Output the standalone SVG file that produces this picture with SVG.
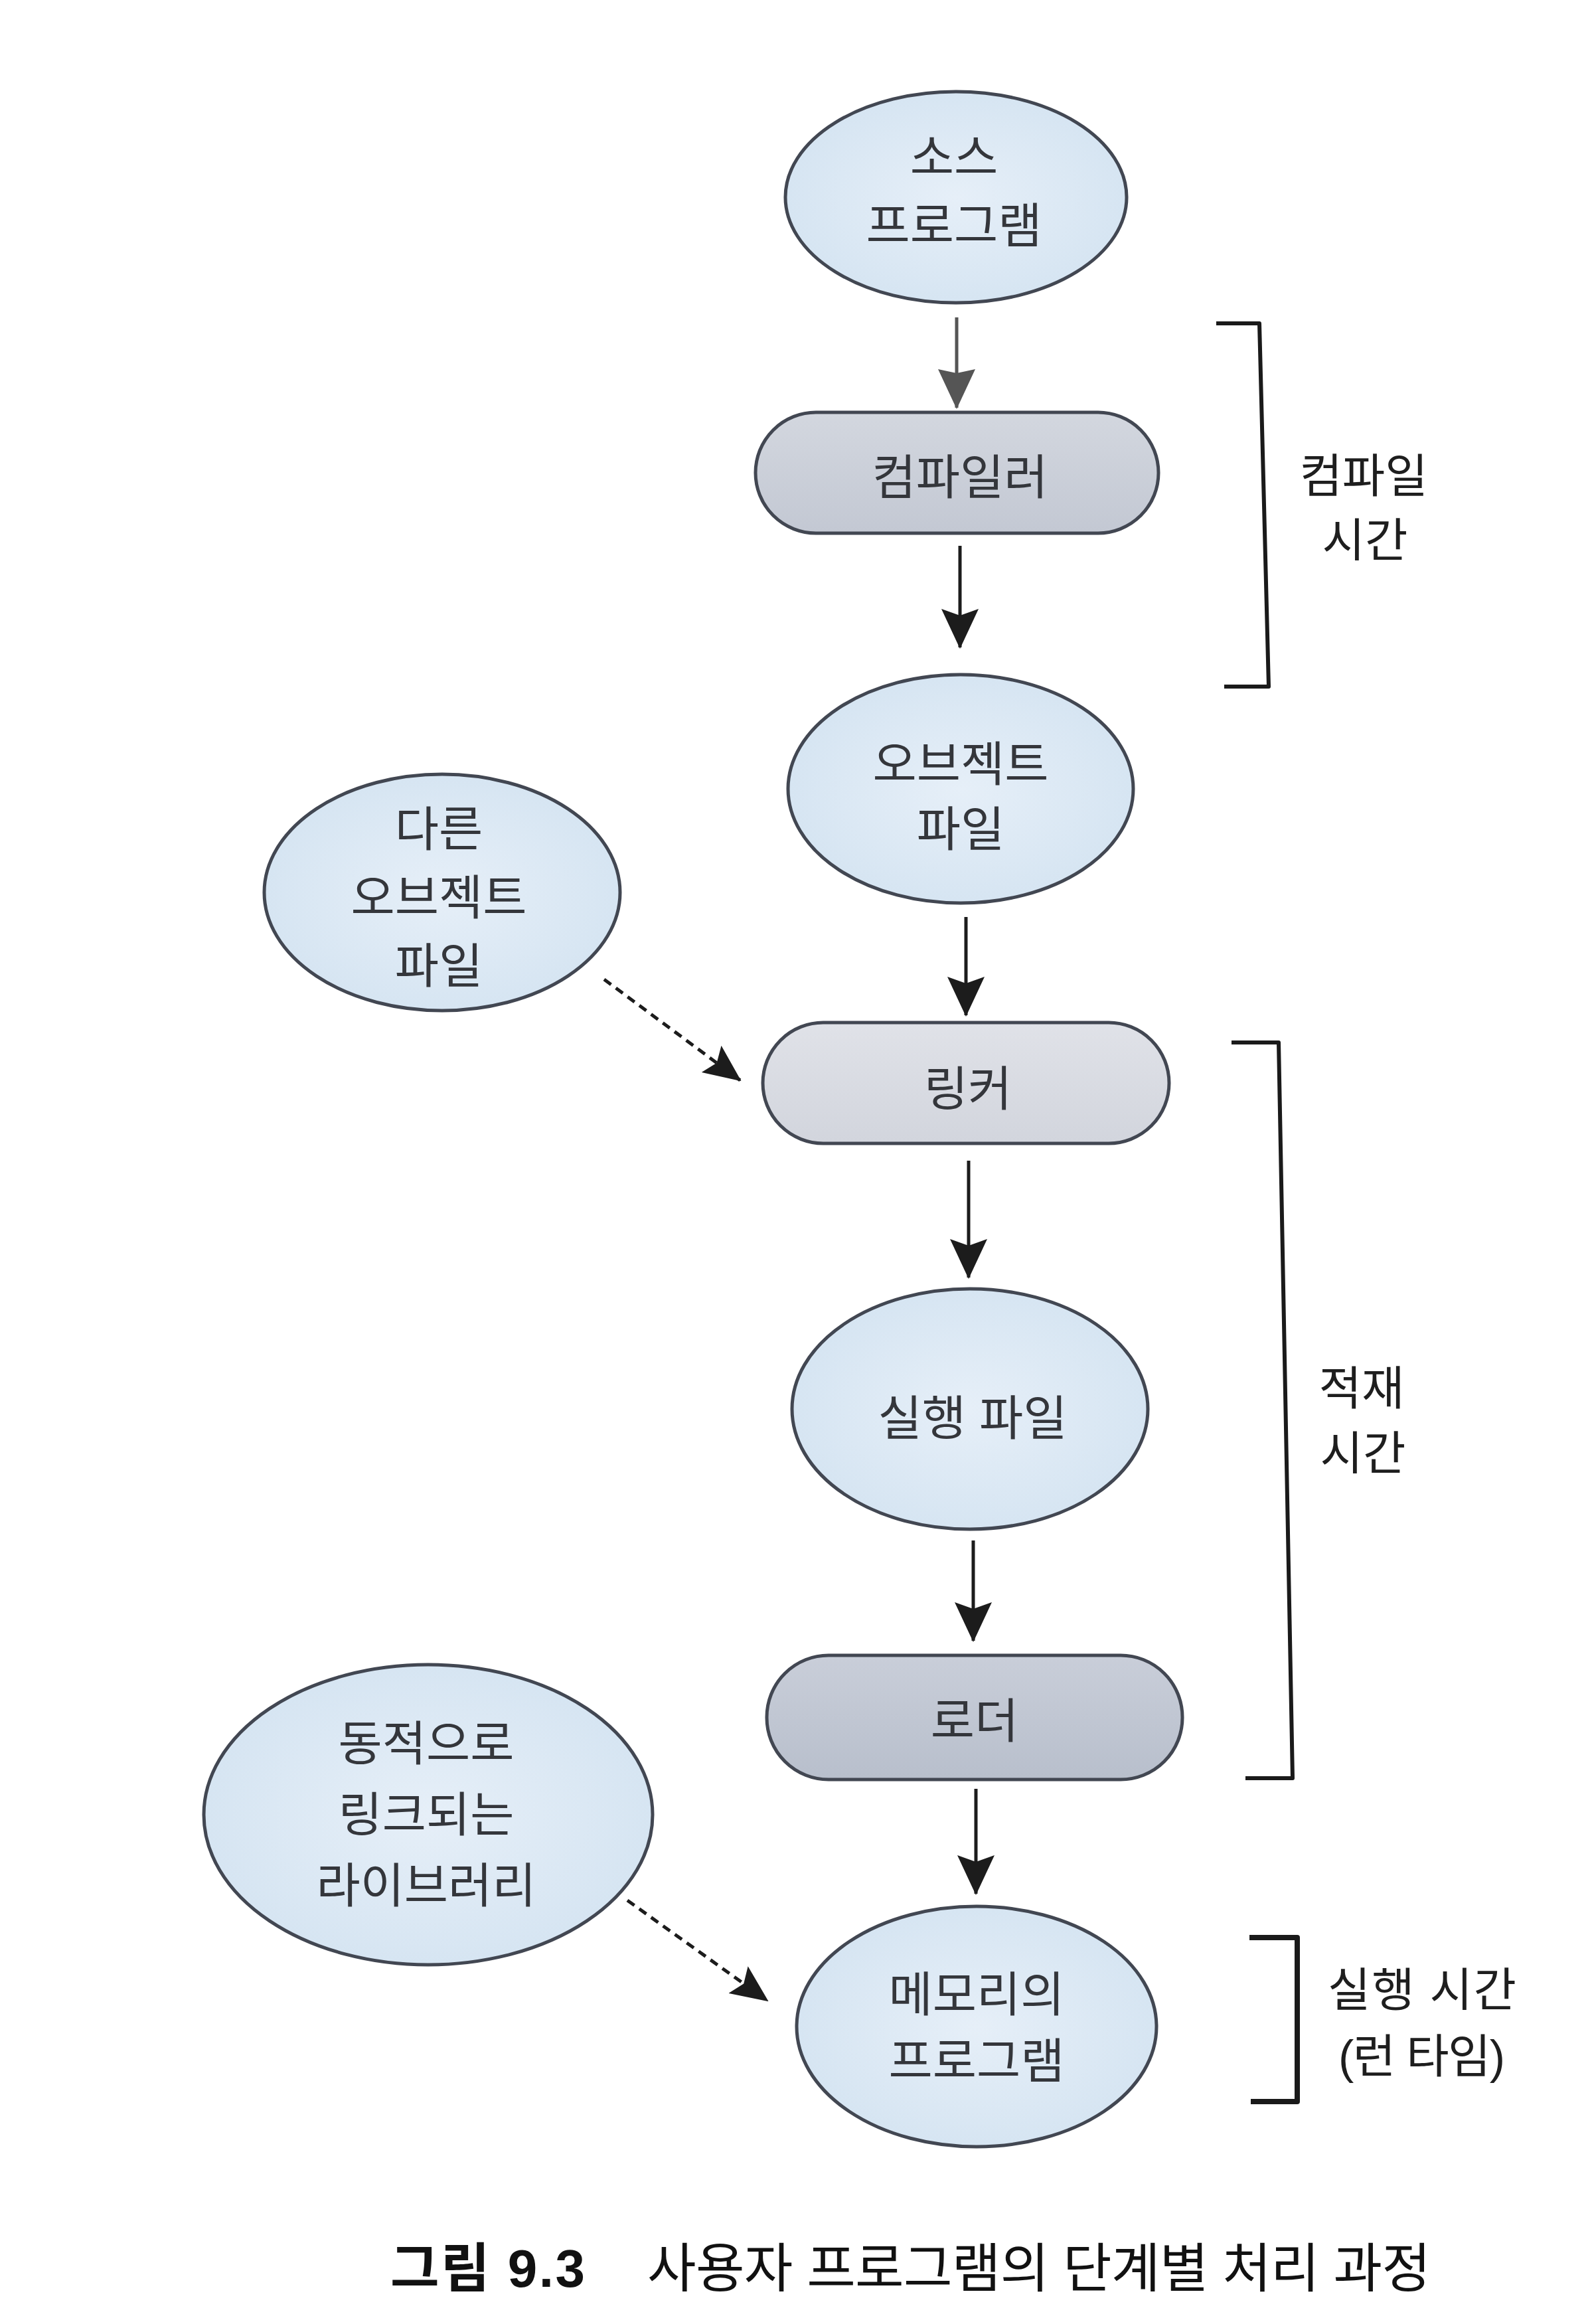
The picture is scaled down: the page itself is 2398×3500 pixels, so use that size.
<svg xmlns="http://www.w3.org/2000/svg" width="2398" height="3500" viewBox="0 0 2398 3500">
<style>
  .ell { stroke: #424752; stroke-width: 5; fill: url(#gEll); }
  .box { stroke: #424752; stroke-width: 5; }
  .nt { font-family: "Liberation Sans", "Noto Sans CJK KR", sans-serif; font-size: 72px; fill: #34363b; text-anchor: middle; }
  .lb { font-family: "Liberation Sans", "Noto Sans CJK KR", sans-serif; font-size: 70px; fill: #1e1e1e; }
  .cap { font-family: "Liberation Sans", "Noto Sans CJK KR", sans-serif; font-size: 80px; fill: #111; }
  .arr { stroke: #1c1c1c; stroke-width: 5; fill: none; marker-end: url(#ah); }
  .arrg { stroke: #555; stroke-width: 5; fill: none; marker-end: url(#ahg); }
  .dash { stroke: #1c1c1c; stroke-width: 5; fill: none; stroke-dasharray: 13 9; marker-end: url(#ahd); }
  .br { stroke: #1a1a1a; stroke-width: 6; fill: none; stroke-linejoin: round; }
</style>
<defs>
  <radialGradient id="gEll" cx="50%" cy="50%" r="60%">
    <stop offset="0" stop-color="#e6eff8"/>
    <stop offset="1" stop-color="#d3e3f1"/>
  </radialGradient>
  <linearGradient id="gComp" x1="0" y1="0" x2="0" y2="1">
    <stop offset="0" stop-color="#d3d7df"/>
    <stop offset="1" stop-color="#c3c8d3"/>
  </linearGradient>
  <linearGradient id="gLink" x1="0" y1="0" x2="0" y2="1">
    <stop offset="0" stop-color="#e0e2e8"/>
    <stop offset="1" stop-color="#d2d5dd"/>
  </linearGradient>
  <linearGradient id="gLoad" x1="0" y1="0" x2="0" y2="1">
    <stop offset="0" stop-color="#c9ced9"/>
    <stop offset="1" stop-color="#b8bfcc"/>
  </linearGradient>
  <marker id="ah" viewBox="0 0 60 56" refX="58" refY="28" markerWidth="60" markerHeight="56" markerUnits="userSpaceOnUse" orient="auto">
    <path d="M0,0 L60,28 L0,56 L10,28 z" fill="#1c1c1c"/>
  </marker>
  <marker id="ahg" viewBox="0 0 60 56" refX="58" refY="28" markerWidth="60" markerHeight="56" markerUnits="userSpaceOnUse" orient="auto">
    <path d="M0,0 L60,28 L0,56 L6,28 z" fill="#555"/>
  </marker>
  <marker id="ahd" viewBox="0 0 56 50" refX="54" refY="25" markerWidth="56" markerHeight="50" markerUnits="userSpaceOnUse" orient="auto">
    <path d="M0,0 L56,25 L0,50 L10,25 z" fill="#1c1c1c"/>
  </marker>
</defs>

<rect x="0" y="0" width="2398" height="3500" fill="#ffffff"/>

<g id="source">
  <ellipse class="ell" cx="1440" cy="297" rx="257" ry="159"/>
  <text class="nt" x="1437" y="262">소스</text>
  <text class="nt" x="1437" y="365">프로그램</text>
</g>

<g id="compiler">
  <rect class="box" x="1138" y="621" width="607" height="182" rx="91" fill="url(#gComp)"/>
  <text class="nt" x="1446" y="744">컴파일러</text>
</g>

<g id="object">
  <ellipse class="ell" cx="1447" cy="1188" rx="260" ry="172"/>
  <text class="nt" x="1447" y="1176">오브젝트</text>
  <text class="nt" x="1447" y="1274">파일</text>
</g>

<g id="other-object">
  <ellipse class="ell" cx="666" cy="1344" rx="268" ry="178"/>
  <text class="nt" x="661" y="1274">다른</text>
  <text class="nt" x="661" y="1377">오브젝트</text>
  <text class="nt" x="661" y="1480">파일</text>
</g>

<g id="linker">
  <rect class="box" x="1149" y="1540" width="612" height="182" rx="91" fill="url(#gLink)"/>
  <text class="nt" x="1458" y="1665">링커</text>
</g>

<g id="executable">
  <ellipse class="ell" cx="1461" cy="2122" rx="268" ry="181"/>
  <text class="nt" x="1465" y="2161">실행 파일</text>
</g>

<g id="loader">
  <rect class="box" x="1155" y="2493" width="626" height="187" rx="93" fill="url(#gLoad)"/>
  <text class="nt" x="1468" y="2617">로더</text>
</g>

<g id="dynlib">
  <ellipse class="ell" cx="645" cy="2733" rx="338" ry="226"/>
  <text class="nt" x="642" y="2651">동적으로</text>
  <text class="nt" x="642" y="2758">링크되는</text>
  <text class="nt" x="642" y="2865">라이브러리</text>
</g>

<g id="memory">
  <ellipse class="ell" cx="1471" cy="3052" rx="271" ry="181"/>
  <text class="nt" x="1471" y="3029">메모리의</text>
  <text class="nt" x="1471" y="3129">프로그램</text>
</g>

<g id="connectors">
  <line class="arrg" x1="1441" y1="478" x2="1441" y2="614"/>
  <line class="arr" x1="1446" y1="822" x2="1446" y2="975"/>
  <line class="arr" x1="1455" y1="1381" x2="1455" y2="1529"/>
  <line class="arr" x1="1459" y1="1748" x2="1459" y2="1924"/>
  <line class="arr" x1="1466" y1="2320" x2="1466" y2="2471"/>
  <line class="arr" x1="1470" y1="2694" x2="1470" y2="2852"/>
  <line class="dash" x1="910" y1="1475" x2="1115" y2="1627"/>
  <line class="dash" x1="945" y1="2862" x2="1156" y2="3013"/>
</g>

<g id="compile-time">
  <path class="br" d="M1832,487 H1897 L1911,1034 H1844"/>
  <text class="lb" x="2054" y="742" text-anchor="middle">컴파일</text>
  <text class="lb" x="2056" y="839" text-anchor="middle">시간</text>
</g>

<g id="load-time">
  <path class="br" d="M1855,1570 H1926 L1947,2678 H1876"/>
  <text class="lb" x="2051" y="2116" text-anchor="middle">적재</text>
  <text class="lb" x="2053" y="2214" text-anchor="middle">시간</text>
</g>

<g id="run-time">
  <path class="br" style="stroke-width:8" d="M1882,2918 H1954 V3165 H1884"/>
  <text class="lb" x="2000" y="3022" textLength="284" lengthAdjust="spacing">실행 시간</text>
  <text class="lb" x="2016" y="3122" textLength="251" lengthAdjust="spacing">(런 타임)</text>
</g>

<g id="caption">
  <text class="cap" x="588" y="3444" font-weight="bold" textLength="293" lengthAdjust="spacing">그림 9.3</text>
  <text class="cap" x="975" y="3444" textLength="1180" lengthAdjust="spacing">사용자 프로그램의 단계별 처리 과정</text>
</g>
</svg>
